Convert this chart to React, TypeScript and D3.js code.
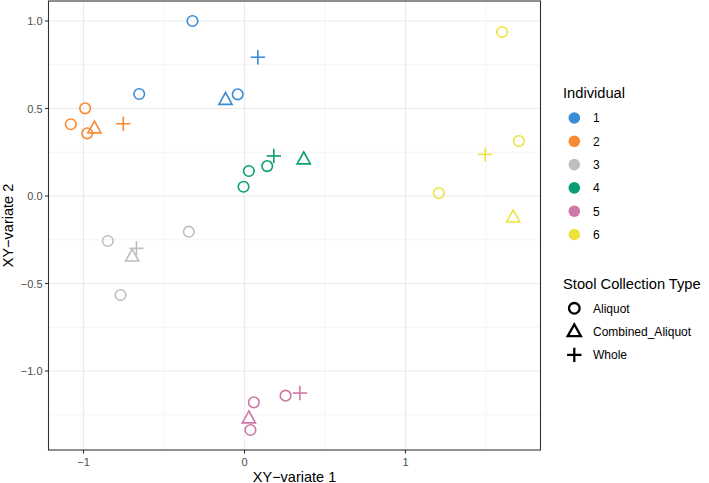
import React from "react";
import * as d3 from "d3";

const individuals = ["1", "2", "3", "4", "5", "6"];
const colors = ["#3A8DD6", "#F88A34", "#BEBEBE", "#0B9E74", "#CC79A7", "#EEE23E"];
const collectionTypes = ["Aliquot", "Combined_Aliquot", "Whole"];

const pointIndividual = [
  "1", "1", "1", "1", "1",
  "2", "2", "2", "2", "2",
  "3", "3", "3", "3", "3",
  "4", "4", "4", "4", "4",
  "5", "5", "5", "5", "5",
  "6", "6", "6", "6", "6",
];
const pointType = [
  "Aliquot", "Whole", "Aliquot", "Combined_Aliquot", "Aliquot",
  "Aliquot", "Aliquot", "Aliquot", "Combined_Aliquot", "Whole",
  "Aliquot", "Aliquot", "Whole", "Combined_Aliquot", "Aliquot",
  "Aliquot", "Aliquot", "Aliquot", "Whole", "Combined_Aliquot",
  "Aliquot", "Aliquot", "Whole", "Combined_Aliquot", "Aliquot",
  "Aliquot", "Aliquot", "Whole", "Aliquot", "Combined_Aliquot",
];
const variate1 = [
  -0.323, 0.083, -0.654, -0.118, -0.042,
  -0.99, -1.079, -0.977, -0.932, -0.753,
  -0.346, -0.849, -0.671, -0.698, -0.77,
  -0.006, 0.027, 0.141, 0.182, 0.368,
  0.058, 0.255, 0.344, 0.027, 0.037,
  1.6, 1.704, 1.495, 1.207, 1.669,
];
const variate2 = [
  1.0, 0.793, 0.583, 0.55, 0.581,
  0.501, 0.41, 0.358, 0.387, 0.413,
  -0.204, -0.257, -0.299, -0.345, -0.566,
  0.053, 0.143, 0.171, 0.229, 0.21,
  -1.179, -1.141, -1.126, -1.27, -1.337,
  0.937, 0.314, 0.238, 0.017, -0.122,
];

const xTicks = [-1, 0, 1];
const yTicks = [-1.0, -0.5, 0.0, 0.5, 1.0];
const xMinor = [-0.5, 0.5, 1.5];
const yMinor = [-1.25, -0.75, -0.25, 0.25, 0.75];

const W = 709;
const H = 483;
const left = 48.5;
const right = 540.5;
const top = 1;
const bottom = 450;

const x = d3.scaleLinear().domain([-1.2174, 1.8385]).range([left, right]);
const y = d3.scaleLinear().domain([1.1143, -1.4514]).range([top, bottom]);
const color = d3.scaleOrdinal<string, string>().domain(individuals).range(colors);

const fmtY = (v: number) => d3.format(".1f")(v).replace("-", "\u2212");
const fmtX = (v: number) => String(v).replace("-", "\u2212");

const font = "'Liberation Sans', Arial, Helvetica, sans-serif";

function Shape({ type, cx, cy, stroke, size = 1, sw = 1.6 }: any) {
  if (type === "Aliquot") {
    return <circle cx={cx} cy={cy} r={5.3 * size} fill="none" stroke={stroke} strokeWidth={sw} />;
  }
  if (type === "Combined_Aliquot") {
    const s = 6.6 * size;
    const h = s * Math.sqrt(3);
    const pts = [
      [cx, cy - (2 / 3) * h * 0.95],
      [cx - s, cy + (1 / 3) * h * 0.95 + 1],
      [cx + s, cy + (1 / 3) * h * 0.95 + 1],
    ];
    return (
      <polygon
        points={pts.map((p) => p.join(",")).join(" ")}
        fill="none"
        stroke={stroke}
        strokeWidth={sw}
        strokeLinejoin="miter"
      />
    );
  }
  const a = 7.2 * size;
  return (
    <g stroke={stroke} strokeWidth={sw}>
      <line x1={cx - a} x2={cx + a} y1={cy} y2={cy} />
      <line x1={cx} x2={cx} y1={cy - a} y2={cy + a} />
    </g>
  );
}

export default function App() {
  const idx = d3.range(variate1.length);
  return (
    <svg width={W} height={H} style={{ position: "absolute", left: 0, top: 0, background: "#fff" }}>
      <rect x={0} y={0} width={W} height={H} fill="#fff" />
      {/* minor grid */}
      {xMinor.map((v) => (
        <line key={"xm" + v} x1={x(v)} x2={x(v)} y1={top} y2={bottom} stroke="#F2F2F2" strokeWidth={0.8} />
      ))}
      {yMinor.map((v) => (
        <line key={"ym" + v} x1={left} x2={right} y1={y(v)} y2={y(v)} stroke="#F2F2F2" strokeWidth={0.8} />
      ))}
      {/* major grid */}
      {xTicks.map((v) => (
        <line key={"xg" + v} x1={x(v)} x2={x(v)} y1={top} y2={bottom} stroke="#EBEBEB" strokeWidth={1.2} />
      ))}
      {yTicks.map((v) => (
        <line key={"yg" + v} x1={left} x2={right} y1={y(v)} y2={y(v)} stroke="#EBEBEB" strokeWidth={1.2} />
      ))}
      {/* points */}
      {idx.map((i) => (
        <Shape
          key={i}
          type={pointType[i]}
          cx={x(variate1[i])}
          cy={y(variate2[i])}
          stroke={color(pointIndividual[i])}
        />
      ))}
      {/* panel border */}
      <rect x={left} y={top} width={right - left} height={bottom - top} fill="none" stroke="#333" strokeWidth={1.1} />
      {/* axes ticks */}
      {xTicks.map((v) => (
        <g key={"xt" + v}>
          <line x1={x(v)} x2={x(v)} y1={bottom} y2={bottom + 3.5} stroke="#333" strokeWidth={1.1} />
          <text x={x(v)} y={bottom + 15.5} textAnchor="middle" fontSize={11} fill="#4D4D4D" fontFamily={font}>
            {fmtX(v)}
          </text>
        </g>
      ))}
      {yTicks.map((v) => (
        <g key={"yt" + v}>
          <line x1={left - 3.5} x2={left} y1={y(v)} y2={y(v)} stroke="#333" strokeWidth={1.1} />
          <text x={left - 6} y={y(v) + 4} textAnchor="end" fontSize={11} fill="#4D4D4D" fontFamily={font}>
            {fmtY(v)}
          </text>
        </g>
      ))}
      {/* axis titles */}
      <text x={(left + right) / 2} y={481.5} textAnchor="middle" fontSize={14.5} fill="#000" fontFamily={font}>
        XY{"\u2212"}variate 1
      </text>
      <text
        transform={`translate(12.5, ${(top + bottom) / 2}) rotate(-90)`}
        textAnchor="middle"
        fontSize={14.5}
        fill="#000"
        fontFamily={font}
      >
        XY{"\u2212"}variate 2
      </text>
      {/* legend: Individual */}
      <text x={563} y={97.5} fontSize={14.7} fill="#000" fontFamily={font}>
        Individual
      </text>
      {individuals.map((d, i) => (
        <g key={"li" + d}>
          <circle cx={574.3} cy={118 + i * 23.3} r={5.8} fill={color(d)} />
          <text x={593} y={118 + i * 23.3 + 4.3} fontSize={12} fill="#000" fontFamily={font}>
            {d}
          </text>
        </g>
      ))}
      {/* legend: Stool Collection Type */}
      <text x={563} y={288.5} fontSize={14.7} fill="#000" fontFamily={font}>
        Stool Collection Type
      </text>
      {collectionTypes.map((t, i) => (
        <g key={"lt" + t}>
          <Shape type={t} cx={574.3} cy={308.3 + i * 23.3} stroke="#000" sw={2.3} size={1} />
          <text x={593} y={308.3 + i * 23.3 + 4.3} fontSize={12} fill="#000" fontFamily={font}>
            {t}
          </text>
        </g>
      ))}
    </svg>
  );
}
